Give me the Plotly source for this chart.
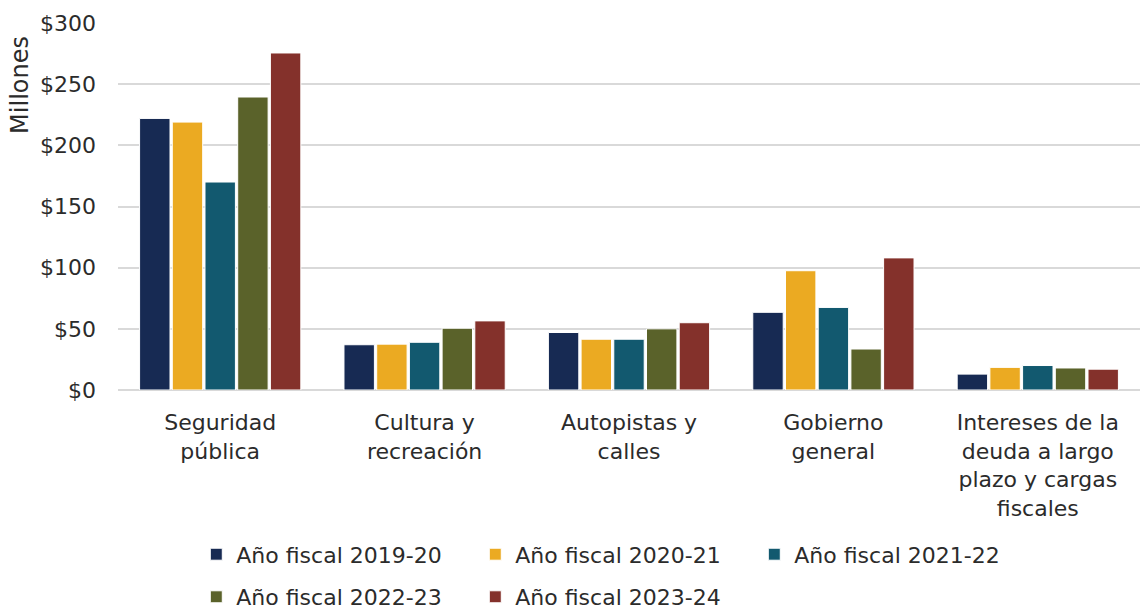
import plotly.graph_objects as go

categories = ["Seguridad<br>pública", "Cultura y<br>recreación", "Autopistas y<br>calles",
              "Gobierno<br>general", "Intereses de la<br>deuda a largo<br>plazo y cargas<br>fiscales"]
series_names = ["Año fiscal 2019-20", "Año fiscal 2020-21", "Año fiscal 2021-22",
                "Año fiscal 2022-23", "Año fiscal 2023-24"]
fy2019_20 = [222, 37, 47, 63.5, 13]
fy2020_21 = [219, 37.5, 41.5, 97.5, 18.5]
fy2021_22 = [170, 39, 41.5, 67.5, 20]
fy2022_23 = [239.5, 50.5, 50, 33.5, 18]
fy2023_24 = [275.5, 56.5, 55, 108, 17]
tick_vals = [0, 50, 100, 150, 200, 250, 300]
tick_text = ["$0", "$50", "$100", "$150", "$200", "$250", "$300"]

colors = ["#172A53", "#EBAA22", "#12596F", "#5A622A", "#84312B"]
all_series = [fy2019_20, fy2020_21, fy2021_22, fy2022_23, fy2023_24]
legend_ids = ["legend", "legend", "legend", "legend2", "legend2"]

FONT = "DejaVu Sans"
TXT = "#2B2B2B"
FS = 22
fig = go.Figure()
for name, vals, col, lg in zip(series_names, all_series, colors, legend_ids):
    fig.add_trace(go.Bar(x=categories, y=vals, name=name, marker_color=col,
                         marker_line=dict(color="#FFFFFF", width=1), legend=lg))

leg_common = dict(orientation="h", xanchor="left", yanchor="middle",
                  entrywidth=234, entrywidthmode="pixels", itemwidth=30,
                  font=dict(size=FS, color=TXT), traceorder="normal",
                  bgcolor="rgba(0,0,0,0)")

fig.update_layout(
    width=1143, height=613,
    margin=dict(l=118, r=3, t=23, b=223, autoexpand=False),
    plot_bgcolor="white", paper_bgcolor="white",
    barmode="group", bargap=0.2, bargroupgap=0.07,
    font=dict(family=FONT, size=FS, color=TXT),
    xaxis=dict(showline=False, ticks="", automargin=False, ticklabelstandoff=17,
               tickfont=dict(size=FS, color=TXT)),
    yaxis=dict(range=[0, 300], tickvals=tick_vals, ticktext=tick_text, automargin=False,
               showgrid=True, gridcolor="#D9D9D9", gridwidth=2,
               zeroline=True, zerolinecolor="#D9D9D9", zerolinewidth=2,
               tickfont=dict(size=FS, color=TXT), ticks="", ticklabelstandoff=21),
    legend=dict(x=0.0766, y=-0.448, **leg_common),
    legend2=dict(x=0.0766, y=-0.564, **leg_common),
    annotations=[dict(text="Millones", xref="paper", yref="paper", x=-0.096, y=(390 - 85) / 367,
                      xanchor="center", yanchor="middle", textangle=-90, showarrow=False,
                      font=dict(size=24, color=TXT))],
)
fig.write_html("out.html", config={"displayModeBar": False},
               post_script="document.body.style.margin='0px';")
